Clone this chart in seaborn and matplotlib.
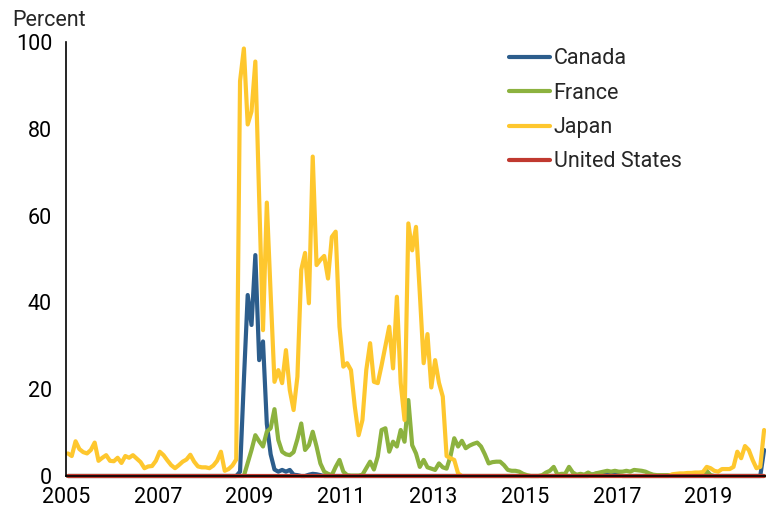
import pandas as pd
import seaborn as sns
import matplotlib.pyplot as plt
from matplotlib.ticker import MultipleLocator

# Monthly shares (percent), Jan 2005 - Mar 2020
months = pd.period_range('2005-01', '2020-03', freq='M')

canada = [
    0, 0, 0, 0, 0, 0, 0, 0, 0, 0, 0, 0,
    0, 0, 0, 0, 0, 0, 0, 0, 0, 0, 0, 0,
    0, 0, 0, 0, 0, 0, 0, 0, 0, 0, 0, 0,
    0, 0, 0, 0, 0, 0, 0, 0, 0, 1.0, 22, 41.7,
    34.8, 50.9, 26.7, 31, 12, 5, 1.5, 1.0, 1.4, 1.0, 1.4, 0.3,
    0.2, 0, 0, 0.3, 0.5, 0.4, 0.2, 0, 0, 0, 0, 0,
    0, 0, 0, 0, 0, 0, 0, 0, 0, 0, 0, 0,
    0, 0, 0, 0, 0, 0, 0, 0, 0, 0, 0, 0,
    0, 0, 0, 0, 0, 0, 0, 0, 0, 0, 0, 0,
    0, 0, 0, 0, 0, 0, 0, 0, 0, 0, 0, 0,
    0, 0, 0, 0, 0, 0, 0, 0, 0, 0, 0, 0,
    0, 0, 0, 0, 0, 0.3, 0.5, 0.6, 0.6, 0.7, 0.5, 0.4,
    0.2, 0, 0, 0, 0, 0, 0, 0, 0, 0, 0, 0,
    0, 0, 0, 0, 0, 0, 0, 0, 0, 0, 0, 0,
    0, 0, 0, 0, 0, 0, 0, 0, 0, 0, 0, 0,
    0, 0, 6.0,
]

france = [
    0, 0, 0, 0, 0, 0, 0, 0, 0, 0, 0, 0,
    0, 0, 0, 0, 0, 0, 0, 0, 0, 0, 0, 0,
    0, 0, 0, 0, 0, 0, 0, 0, 0, 0, 0, 0,
    0, 0, 0, 0, 0, 0, 0, 0, 0, 0, 0, 3.0,
    6.0, 9.4, 8.0, 6.8, 10.2, 11.0, 15.4, 8.3, 5.6, 5.0, 4.8, 5.5,
    8.5, 12.1, 6.0, 7.1, 10.2, 6.8, 2.9, 1.0, 0.5, 0.2, 2.1, 3.7,
    1.0, 0.2, 0.1, 0.1, 0.1, 0.3, 1.8, 3.3, 1.5, 4.5, 10.6, 11.0,
    5.6, 7.9, 6.8, 10.6, 7.9, 17.5, 7.1, 5.2, 2.1, 3.7, 2.0, 1.7,
    1.4, 2.9, 2.0, 1.7, 4.5, 8.7, 6.8, 8.1, 6.4, 7.0, 7.4, 7.7,
    6.8, 5.0, 2.9, 3.2, 3.3, 3.3, 2.5, 1.4, 1.2, 1.2, 1.0, 0.5,
    0.2, 0, 0, 0, 0.2, 0.8, 1.2, 2.1, 0.3, 0.5, 0.5, 2.1,
    0.8, 0.3, 0.5, 0.3, 0.8, 0.3, 0.6, 0.8, 1.0, 1.2, 1.0, 1.2,
    1.0, 1.0, 1.2, 1.0, 1.4, 1.3, 1.2, 1.0, 0.6, 0.3, 0.2, 0.2,
    0.2, 0.2, 0.2, 0.2, 0.2, 0.2, 0.2, 0.2, 0.2, 0.2, 0.2, 1.2,
    0.2, 0, 0, 0, 0, 0, 0, 0, 0, 0, 0, 0,
    0, 0, 0,
]

japan = [
    5.2, 4.6, 8.0, 6.2, 5.5, 5.2, 6.0, 7.7, 3.5, 4.2, 4.8, 3.5,
    3.4, 4.2, 3.0, 4.6, 4.2, 4.8, 4.0, 3.2, 1.8, 2.2, 2.3, 3.5,
    5.6, 4.8, 3.6, 2.5, 1.8, 2.5, 3.3, 3.8, 4.9, 3.3, 2.2, 2.0,
    2.0, 1.8, 2.4, 3.5, 5.6, 1.2, 1.6, 2.4, 3.8, 91.0, 98.5, 81.0,
    84.0, 95.5, 64.0, 33.6, 63.0, 42.0, 21.7, 24.4, 21.4, 29.0, 19.8, 15.2,
    22.9, 47.5, 51.4, 39.8, 73.6, 48.6, 49.8, 50.7, 45.5, 55.1, 56.3, 34.4,
    25.2, 26.0, 24.4, 16.0, 9.4, 12.9, 24.4, 30.6, 21.7, 21.4, 25.5, 30.0,
    34.4, 24.8, 41.3, 21.4, 12.9, 58.2, 52.0, 57.4, 42.0, 26.0, 32.7, 20.4,
    26.7, 21.5, 18.3, 4.6, 4.1, 3.7, 0.6, 0, 0, 0, 0, 0,
    0, 0, 0, 0, 0, 0, 0, 0, 0, 0, 0, 0,
    0, 0, 0, 0, 0, 0, 0, 0, 0, 0, 0, 0,
    0, 0, 0, 0, 0, 0, 0, 0, 0, 0, 0, 0,
    0, 0, 0, 0, 0, 0, 0, 0, 0, 0, 0, 0,
    0, 0, 0.4, 0.5, 0.6, 0.6, 0.7, 0.7, 0.8, 0.8, 0.9, 2.1,
    1.8, 1.2, 1.0, 1.6, 1.6, 1.6, 2.1, 5.6, 4.1, 6.9, 6.0, 3.7,
    1.8, 2.1, 10.6,
]

united_states = [
    0, 0, 0, 0, 0, 0, 0, 0, 0, 0, 0, 0,
    0, 0, 0, 0, 0, 0, 0, 0, 0, 0, 0, 0,
    0, 0, 0, 0, 0, 0, 0, 0, 0, 0, 0, 0,
    0, 0, 0, 0, 0, 0, 0, 0, 0, 0, 0, 0,
    0, 0, 0, 0, 0, 0, 0, 0, 0, 0, 0, 0,
    0, 0, 0, 0, 0, 0, 0, 0, 0, 0, 0, 0,
    0, 0, 0, 0, 0, 0, 0, 0, 0, 0, 0, 0,
    0, 0, 0, 0, 0, 0, 0, 0, 0, 0, 0, 0,
    0, 0, 0, 0, 0, 0, 0, 0, 0, 0, 0, 0,
    0, 0, 0, 0, 0, 0, 0, 0, 0, 0, 0, 0,
    0, 0, 0, 0, 0, 0, 0, 0, 0, 0, 0, 0,
    0, 0, 0, 0, 0, 0, 0, 0, 0, 0, 0, 0,
    0, 0, 0, 0, 0, 0, 0, 0, 0, 0, 0, 0,
    0, 0, 0, 0, 0, 0, 0, 0, 0, 0, 0, 0,
    0, 0, 0, 0, 0, 0, 0, 0, 0, 0, 0, 0,
    0, 0, 0,
]

countries = ['Canada', 'France', 'Japan', 'United States']
colors = ['#2C5D8C', '#8CB23F', '#FEC72E', '#C0392F']

# mid-month positions in decimal years
year = [p.year + (p.month - 0.5) / 12 for p in months]
df = pd.concat([
    pd.DataFrame({'year': year, 'value': vals, 'country': name})
    for name, vals in zip(countries, [canada, france, japan, united_states])
])

sns.set_style('white')
plt.rcParams['font.family'] = ['Roboto', 'DejaVu Sans']

fig = plt.figure(figsize=(7.66, 5.16), dpi=100)
ax = fig.add_axes([66 / 766, 40 / 516, 700 / 766, 434 / 516])

sns.lineplot(data=df, x='year', y='value', hue='country', hue_order=countries,
             palette=colors, linewidth=3, ax=ax, legend=False)
for line in ax.lines:
    line.set_clip_on(False)
    line.set_solid_joinstyle('round')

ax.set_xlim(2005, 2020.25)
ax.set_ylim(0, 100)
ax.set_xticks(range(2005, 2021, 2))
ax.xaxis.set_minor_locator(MultipleLocator(1))
ax.yaxis.set_major_locator(MultipleLocator(20))
ax.yaxis.set_minor_locator(MultipleLocator(10))
ax.tick_params(axis='both', which='both', direction='out', colors='black',
               labelsize=15.5, width=1.2)
ax.tick_params(axis='y', which='major', length=7, pad=3)
ax.tick_params(axis='y', which='minor', length=5)
ax.tick_params(axis='x', which='both', length=5, pad=3)
ax.set_xlabel('')
ax.set_ylabel('')

for side in ['top', 'right']:
    ax.spines[side].set_visible(False)
for side in ['left', 'bottom']:
    ax.spines[side].set_color('black')
    ax.spines[side].set_linewidth(1.2)

ax.legend(ax.lines, countries, loc='upper left', bbox_to_anchor=(0.612, 1.02),
          frameon=False, fontsize=15.5, handlelength=1.9, handletextpad=0.15,
          labelspacing=0.62, borderaxespad=0.3)

fig.text(12 / 766, 1 - 20 / 516, 'Percent', fontsize=15.5, va='center', ha='left')

fig.savefig('out.png', dpi=100)
